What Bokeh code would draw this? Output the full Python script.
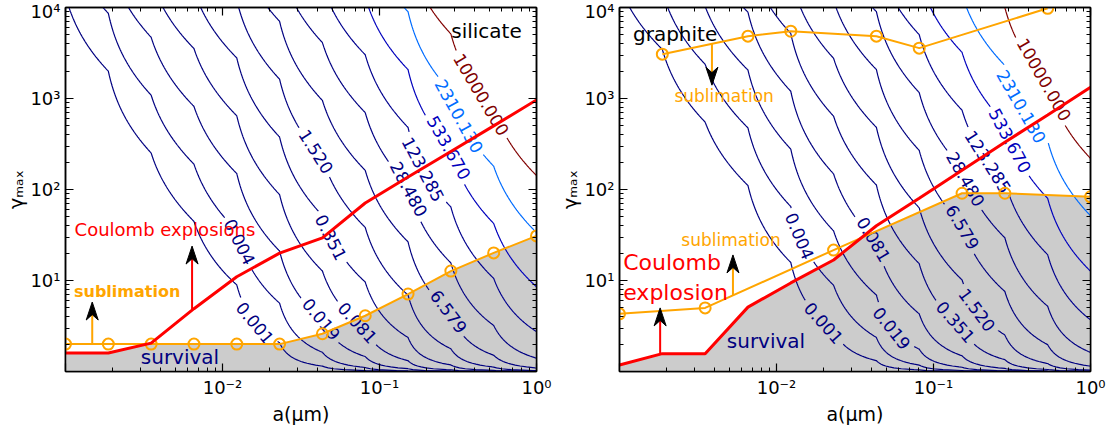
import numpy as np
import contourpy
from bokeh.plotting import figure
from bokeh.layouts import row
from bokeh.models import LogAxis, LogTicker, CustomJSTickFormatter, Label
from bokeh.embed import file_html
from bokeh.resources import INLINE
from bokeh.core.properties import value

FONT = "DejaVu Sans"
RED = "#ff0000"
ORANGE = "#ffa500"
NAVY = "#00007f"
GRAY = "#cccccc"

# grain radii (um) of the tabulated grid
a_grid = [0.001, 0.001874, 0.003511, 0.006579, 0.01233, 0.02310,
          0.04329, 0.08111, 0.1520, 0.2848, 0.5337, 1.0]

# contour levels of the energy ratio
levels = [0.001, 0.004329, 0.018738, 0.081113, 0.351119, 1.519911,
          6.579332, 28.480359, 123.284674, 533.669923, 2310.129700, 10000.0]

# log10 of the ratio at gamma_max = 1e4 on the a grid
sil_ratio_top = [-3.13, -2.30, -1.40, -0.64, 0.10, 0.97, 1.84, 2.61, 3.41, 4.29, 5.11, 5.85]
gra_ratio_top = [-3.24, -2.54, -1.74, -1.04, -0.17, 0.74, 1.50, 2.39, 3.22, 4.00, 4.83, 5.66]

# silicate: Coulomb explosion and sublimation thresholds on the a grid
sil_coulomb = [1.6, 1.6, 2.05, 4.9, 11.0, 20.0, 29.4, 71.0, 137.0, 262.0, 500.0, 965.0]
sil_sublim = [2.0, 2.0, 2.0, 2.0, 2.0, 2.0, 2.6, 4.1, 7.1, 12.7, 20.1, 30.9]

# graphite: Coulomb explosion threshold on the a grid
gra_coulomb = [1.18, 1.57, 1.57, 5.1, 9.4, 16.8, 40.0, 80.0, 163.0, 331.0, 658.0, 1330.0]
# graphite sublimation, lower and upper branches
gra_sub_low_a = [0.001, 0.003511, 0.02310, 0.1520, 0.2848, 1.0]
gra_sub_low = [4.3, 5.0, 21.6, 91.0, 91.0, 83.0]
gra_sub_high_a = [0.001874, 0.006579, 0.01233, 0.04329, 0.08111, 0.5337]
gra_sub_high = [3070.0, 4840.0, 5490.0, 4840.0, 3575.0, 9800.0]

# where the inline contour labels sit (a, gamma)
sil_label_at = [(0.0156, 3.26), (0.01236, 25.9), (0.0416, 3.6), (0.0684, 3.02),
                (0.0482, 29.4), (0.0393, 258), (0.267, 4.3), (0.1486, 98.8),
                (0.1824, 160), (0.275, 286), (0.309, 625), (0.44, 1089)]
gra_label_at = [(0.0191, 3.17), (0.01327, 29.4), (0.0526, 2.87), (0.0381, 24.6),
                (0.134, 3.26), (0.18, 4.41), (0.1486, 37.8), (0.153, 127),
                (0.2084, 186), (0.292, 332), (0.3475, 785), (0.48, 1476)]

FW, FH = 471, 364
LABEL_PX = 17


def jet(t):
    r = np.interp(t, [0, 0.35, 0.66, 0.89, 1], [0, 0, 1, 1, 0.5])
    g = np.interp(t, [0, 0.125, 0.375, 0.64, 0.91, 1], [0, 0, 1, 1, 0, 0])
    b = np.interp(t, [0, 0.11, 0.34, 0.65, 1], [0.5, 1, 1, 0, 0])
    return "#%02x%02x%02x" % tuple(int(round(255 * c)) for c in (r, g, b))


def to_px(a, g):
    return (np.log10(a) + 3.0) / 3.0 * FW, np.log10(g) / 4.0 * FH


def to_data(X, Y):
    return 10 ** (np.asarray(X) / FW * 3.0 - 3.0), 10 ** (np.asarray(Y) / FH * 4.0)


def loginterp(a_new, a_pts, g_pts):
    return 10 ** np.interp(np.log10(a_new), np.log10(a_pts), np.log10(g_pts))


def text_width(s, size):
    return sum(0.318 if c == "." else 0.636 for c in s) * size


def split_for_label(paths, target, width, pad=5):
    tx, ty = to_px(*target)
    best = None
    for i, P in enumerate(paths):
        X, Y = to_px(P[:, 0], P[:, 1])
        s = np.concatenate([[0.0], np.cumsum(np.hypot(np.diff(X), np.diff(Y)))])
        ss = np.linspace(0, s[-1], max(2, int(s[-1] * 2)))
        d = np.hypot(np.interp(ss, s, X) - tx, np.interp(ss, s, Y) - ty)
        k = int(np.argmin(d))
        if best is None or d[k] < best[0]:
            best = (d[k], i, X, Y, s, ss[k])
    _, i, X, Y, s, s0 = best
    h = width / 2
    x1, y1 = np.interp(s0 - h, s, X), np.interp(s0 - h, s, Y)
    x2, y2 = np.interp(s0 + h, s, X), np.interp(s0 + h, s, Y)
    ang = np.arctan2(y2 - y1, x2 - x1)
    if ang > np.pi / 2:
        ang -= np.pi
    if ang <= -np.pi / 2:
        ang += np.pi
    cx, cy = np.interp(s0, s, X), np.interp(s0, s, Y)
    lo, hi = s0 - h - pad, s0 + h + pad
    pieces = []
    m1 = s < lo
    if m1.any():
        pieces.append((np.append(X[m1], np.interp(lo, s, X)), np.append(Y[m1], np.interp(lo, s, Y))))
    m2 = s > hi
    if m2.any():
        pieces.append((np.insert(X[m2], 0, np.interp(hi, s, X)), np.insert(Y[m2], 0, np.interp(hi, s, Y))))
    rest = [P for j, P in enumerate(paths) if j != i]
    for xs, ys in pieces:
        ax, gy = to_data(xs, ys)
        rest.append(np.column_stack([ax, gy]))
    cxa, cyg = to_data(cx, cy)
    return rest, (float(cxa), float(cyg)), float(ang)


def sup_formatter(skip):
    return CustomJSTickFormatter(args=dict(skip=skip), code="""
        const e = Math.round(Math.log10(tick));
        if (e === skip) { return " "; }
        const m = {"-": "\u207b", "0": "\u2070", "1": "\u00b9", "2": "\u00b2",
                   "3": "\u00b3", "4": "\u2074"};
        return "10" + String(e).split("").map(c => m[c]).join("");
    """)


def blank_formatter():
    return CustomJSTickFormatter(code="return ' ';")


def style_axis(ax, labels=True):
    ax.axis_line_color = "black"
    ax.axis_line_width = 1.5
    ax.major_tick_in = 8
    ax.major_tick_out = 0
    ax.minor_tick_in = 4
    ax.minor_tick_out = 0
    ax.major_tick_line_color = "black"
    ax.minor_tick_line_color = "black"
    ax.major_tick_line_width = 1.2
    ax.minor_tick_line_width = 1.0
    if labels:
        ax.major_label_text_font = FONT
        ax.major_label_text_font_size = "18px"
        ax.major_label_text_color = "black"
        ax.major_label_standoff = 5
    else:
        ax.formatter = blank_formatter()
        ax.major_label_text_font_size = "1px"
        ax.major_label_standoff = 0


def make_panel(min_left, min_right):
    p = figure(x_axis_type="log", y_axis_type="log", x_range=(1e-3, 1.0), y_range=(1.0, 1e4),
               frame_width=FW, frame_height=FH, output_backend="svg", toolbar_location=None,
               min_border_left=min_left, min_border_right=min_right,
               min_border_top=7, min_border_bottom=58)
    p.grid.visible = False
    p.outline_line_color = "black"
    p.outline_line_width = 1.5
    p.background_fill_color = "white"
    p.border_fill_color = "white"

    xa, ya = p.xaxis[0], p.yaxis[0]
    style_axis(xa)
    style_axis(ya)
    xa.formatter = sup_formatter(-3)
    ya.formatter = sup_formatter(0)
    xa.axis_label = "a(\u03bcm)"
    ya.axis_label = "\u03b3\u2098\u2090\u2093"
    for ax in (xa, ya):
        ax.axis_label_text_font = FONT
        ax.axis_label_text_font_size = "19px"
        ax.axis_label_text_font_style = "normal"
        ax.axis_label_text_color = "black"
    xa.axis_label_standoff = 2
    ya.axis_label_standoff = 0
    top = LogAxis(ticker=LogTicker(num_minor_ticks=10))
    style_axis(top, labels=False)
    p.add_layout(top, "above")
    right = LogAxis(ticker=LogTicker(num_minor_ticks=10))
    style_axis(right, labels=False)
    p.add_layout(right, "right")
    return p


def add_contours(p, ratio_top, label_at):
    gam_rows = np.logspace(0, 4, 400)
    top = 10 ** np.asarray(ratio_top)
    z = np.outer((gam_rows - 1.0) / (gam_rows[-1] - 1.0), top)
    gen = contourpy.contour_generator(x=np.asarray(a_grid), y=gam_rows, z=z)
    lo, hi = levels[0], levels[-1]
    for lev, target in zip(levels, label_at):
        color = jet((lev - lo) / (hi - lo))
        paths = [np.asarray(l) for l in gen.lines(lev) if len(l) > 1]
        if not paths:
            continue
        txt = f"{lev:.3f}"
        paths, (ca, cg), ang = split_for_label(paths, target, text_width(txt, LABEL_PX))
        p.multi_line(xs=[list(P[:, 0]) for P in paths], ys=[list(P[:, 1]) for P in paths],
                     line_color=color, line_width=1.2)
        p.text(x=[ca], y=[cg], text=[txt], angle=ang, text_color=color,
               text_font=value(FONT), text_font_size=f"{LABEL_PX}px",
               text_align="center", text_baseline="middle")


def survival_region(p, coul_a, coul, sub_a, sub):
    aa = np.logspace(-3, 0, 800)
    upper = np.minimum(loginterp(aa, coul_a, coul), loginterp(aa, sub_a, sub))
    xs = np.concatenate([aa, [aa[-1], aa[0]]])
    ys = np.concatenate([upper, [1.0, 1.0]])
    p.patch(xs, ys, fill_color=GRAY, line_color=None)


def arrow(p, a, g_tail, g_tip, color, head_len=18, head_w=12):
    X, Yt = to_px(a, g_tail)
    _, Yh = to_px(a, g_tip)
    d = 1.0 if Yh > Yt else -1.0
    base = Yh - d * head_len
    notch = Yh - d * head_len * 0.7
    sx, sy = to_data([X, X], [Yt, notch])
    p.line(sx, sy, line_color=color, line_width=2)
    hx, hy = to_data([X, X - head_w / 2, X, X + head_w / 2], [Yh, base, notch, base])
    p.patch(hx, hy, fill_color="black", line_color="black", line_width=1)


def text(p, a, g, s, color, size, style="normal", align="center", baseline="middle"):
    p.add_layout(Label(x=a, y=g, text=s, text_color=color, text_font=FONT,
                       text_font_size=size, text_font_style=style,
                       text_align=align, text_baseline=baseline))


# ---------------- silicate ----------------
p1 = make_panel(65, 20)
survival_region(p1, a_grid, sil_coulomb, a_grid, sil_sublim)
add_contours(p1, sil_ratio_top, sil_label_at)
p1.line(a_grid, sil_sublim, line_color=ORANGE, line_width=2)
p1.scatter(a_grid, sil_sublim, marker="circle", size=11, line_color=ORANGE,
           fill_alpha=0, line_width=2)
p1.line(a_grid, sil_coulomb, line_color=RED, line_width=3)
arrow(p1, 0.0064, float(loginterp(0.0064, a_grid, sil_coulomb)), 23.9, RED)
arrow(p1, 0.00148, float(loginterp(0.00148, a_grid, sil_sublim)), 5.8, ORANGE)
text(p1, 0.48, 5500, "silicate", "black", "20px")
text(p1, 0.0043, 35.9, "Coulomb explosions", RED, "18px")
text(p1, 0.00247, 7.5, "sublimation", ORANGE, "16px", style="bold")
text(p1, 0.00536, 1.45, "survival", NAVY, "20px")

# ---------------- graphite ----------------
p2 = make_panel(61, 25)
survival_region(p2, a_grid, gra_coulomb, gra_sub_low_a, gra_sub_low)
add_contours(p2, gra_ratio_top, gra_label_at)
p2.line(gra_sub_low_a, gra_sub_low, line_color=ORANGE, line_width=2)
p2.scatter(gra_sub_low_a, gra_sub_low, marker="circle", size=11, line_color=ORANGE,
           fill_alpha=0, line_width=2)
p2.line(gra_sub_high_a, gra_sub_high, line_color=ORANGE, line_width=2)
p2.scatter(gra_sub_high_a, gra_sub_high, marker="circle", size=11, line_color=ORANGE,
           fill_alpha=0, line_width=2)
p2.line(a_grid, gra_coulomb, line_color=RED, line_width=3)
arrow(p2, 0.001815, float(loginterp(0.001815, a_grid, gra_coulomb)), 5.0, RED)
arrow(p2, 0.00528, float(loginterp(0.00528, gra_sub_low_a, gra_sub_low)), 19.1, ORANGE)
arrow(p2, 0.00388, float(loginterp(0.00388, gra_sub_high_a, gra_sub_high)), 1400, ORANGE)
text(p2, 0.00226, 5090, "graphite", "black", "20px")
text(p2, 0.00464, 1063, "sublimation", ORANGE, "17px")
text(p2, 0.00513, 27.9, "sublimation", ORANGE, "17px")
text(p2, 0.001056, 15.6, "Coulomb", RED, "22px", align="left", baseline="alphabetic")
text(p2, 0.001056, 7.3, "explosion", RED, "22px", align="left", baseline="alphabetic")
text(p2, 0.00857, 2.17, "survival", NAVY, "20px")

layout = row(p1, p2)
open("out.html", "w").write(file_html(layout, INLINE))
